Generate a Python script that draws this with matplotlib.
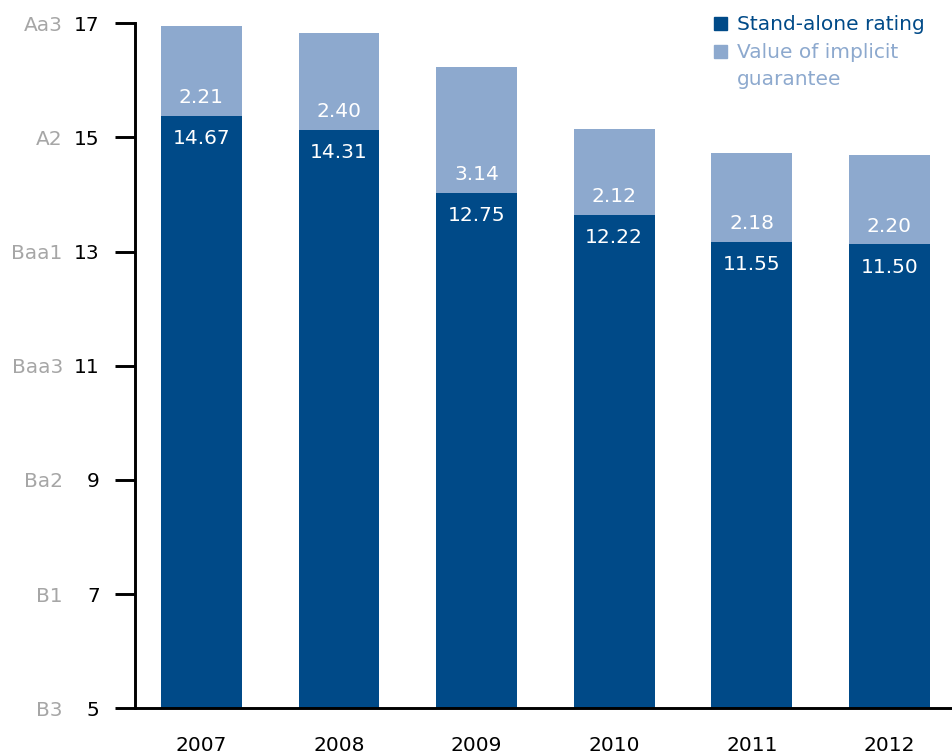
import matplotlib
matplotlib.use("Agg")
import matplotlib.pyplot as plt
import numpy as np

# ---------------- data ----------------
YEARS = ["2007", "2008", "2009", "2010", "2011", "2012"]
# bar tops as drawn on the rating scale
STANDALONE_LEVEL = [15.38, 15.13, 14.03, 13.64, 13.17, 13.13]
TOTAL_LEVEL = [16.95, 16.83, 16.23, 15.15, 14.73, 14.70]
# printed values
STANDALONE_LABELS = ["14.67", "14.31", "12.75", "12.22", "11.55", "11.50"]
GUARANTEE_LABELS = ["2.21", "2.40", "3.14", "2.12", "2.18", "2.20"]

Y_TICKS = [5, 7, 9, 11, 13, 15, 17]
RATINGS = ["B3", "B1", "Ba2", "Baa3", "Baa1", "A2", "Aa3"]

LEGEND_LABELS = ["Stand-alone rating", "Value of implicit\nguarantee"]

# ---------------- style ----------------
DARK = "#004A88"
LIGHT = "#8DA9CE"
GREY = "#A6A6A6"
FS = 14.5

plt.rcParams["font.family"] = ["DejaVu Sans"]

fig = plt.figure(figsize=(9.53, 7.56), dpi=100)
ax = fig.add_axes([134.7 / 953, 1 - 708.3 / 756, 1 - 134.7 / 953, (708.3 - 23.3) / 756])

x = np.arange(len(YEARS))
base = Y_TICKS[0]
dark_h = np.array(STANDALONE_LEVEL) - base
light_h = np.array(TOTAL_LEVEL) - np.array(STANDALONE_LEVEL)

ax.bar(x, dark_h, 0.587, bottom=base, color=DARK, zorder=2)
ax.bar(x, light_h, 0.587, bottom=STANDALONE_LEVEL, color=LIGHT, zorder=2)

for xi, top, s_lab, g_lab in zip(x, STANDALONE_LEVEL, STANDALONE_LABELS, GUARANTEE_LABELS):
    ax.annotate(s_lab, (xi, top), xytext=(0, -9.6), textcoords="offset points",
                ha="center", va="top", color="white", fontsize=FS, zorder=3)
    ax.annotate(g_lab, (xi, top), xytext=(0, 9.1), textcoords="offset points",
                ha="center", va="baseline", color="white", fontsize=FS, zorder=3)

ax.set_xlim(-0.4843, 5.462)
ax.set_ylim(5, 17)
ax.set_xticks(x)
ax.set_xticklabels(YEARS, fontsize=FS)
ax.set_yticks(Y_TICKS)
ax.set_yticklabels([str(t) for t in Y_TICKS], fontsize=FS)
ax.tick_params(axis="x", length=0, pad=20)
ax.tick_params(axis="y", length=14.4, width=2.1, pad=10.8)

for r, t in zip(RATINGS, Y_TICKS):
    ax.annotate(r, (0, t), xycoords=("axes fraction", "data"), xytext=(-51.8, 0),
                textcoords="offset points", ha="right", va="center_baseline",
                color=GREY, fontsize=FS)

for side in ["top", "right"]:
    ax.spines[side].set_visible(False)
for side in ["left", "bottom"]:
    ax.spines[side].set_linewidth(2.1)
    ax.spines[side].set_color("black")

# legend (drawn by hand to keep the wrapped second label)
leg_colors = [DARK, LIGHT]
leg_baselines = [31.0, 59.3]
for lab, col, yb in zip(LEGEND_LABELS, leg_colors, leg_baselines):
    fig.patches.append(plt.Rectangle((714 / 953, 1 - (yb - 1.3) / 756), 13 / 953, 13 / 756,
                                     transform=fig.transFigure, color=col))
    fig.text(737 / 953, 1 - (yb - 16.0) / 756, lab, ha="left", va="top", color=col,
             fontsize=FS, linespacing=1.5)

fig.savefig("out.png", dpi=100)
